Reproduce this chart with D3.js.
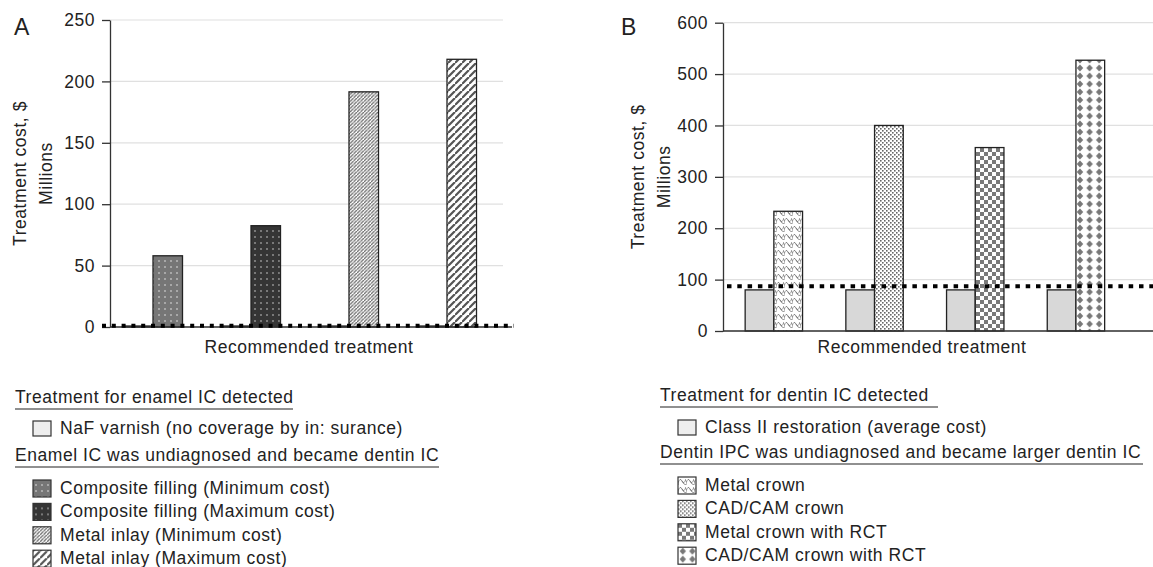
<!DOCTYPE html>
<html>
<head>
<meta charset="utf-8">
<script src="https://cdn.jsdelivr.net/npm/d3@7"></script>
<style>
  body { margin: 0; background: #fff; }
  svg text { font-family: "Liberation Sans", Arial, Helvetica, sans-serif; fill: #222; letter-spacing: 0.55px; }
</style>
</head>
<body>
<svg id="chart" width="1153" height="567"></svg>
<script>
// ---- data ----
var groupsA = ["g1", "g2", "g3", "g4"];
var seriesA = ["Composite filling (Minimum cost)", "Composite filling (Maximum cost)", "Metal inlay (Minimum cost)", "Metal inlay (Maximum cost)"];
var valuesA = [58, 82.5, 191.5, 218];
var nafA = [0.8, 0.8, 0.8, 0.8];
var lineA = 1;
var ticksA = [0, 50, 100, 150, 200, 250];

var groupsB = ["g1", "g2", "g3", "g4"];
var seriesB = ["Metal crown", "CAD/CAM crown", "Metal crown with RCT", "CAD/CAM crown with RCT"];
var valuesB = [233, 400, 357, 527];
var classB = [80, 80, 80, 80];
var lineB = 87;
var ticksB = [0, 100, 200, 300, 400, 500, 600];

var patA = ["compMin", "compMax", "inlayMin", "inlayMax"];
var patB = ["metalCrown", "cadcam", "metalRCT", "cadcamRCT"];

const FS = 17.5;
const svg = d3.select("#chart");
const defs = svg.append("defs");

// ---- fill patterns ----
function pattern(id, w, h) {
    return defs.append("pattern").attr("id", id)
        .attr("patternUnits", "userSpaceOnUse")
        .attr("width", w).attr("height", h);
}
function dots(id, bg, dot) {
    let p = pattern(id, 6, 6);
    p.append("rect").attr("width", 6).attr("height", 6).attr("fill", bg);
    p.append("circle").attr("cx", 3).attr("cy", 3).attr("r", 0.8).attr("fill", dot);
}
dots("compMin", "#767676", "#e8e8e8");
dots("compMax", "#353535", "#d0d0d0");

function hatch(id, step, col, sw) {
    let p = pattern(id, step, step);
    p.append("rect").attr("width", step).attr("height", step).attr("fill", "#fff");
    p.append("path")
        .attr("d", `M0,${step} L${step},0 M${-step},${step} L0,0 M${step},${2*step} L${2*step},${step}`)
        .attr("stroke", col).attr("stroke-width", sw);
}
hatch("inlayMin", 3.5, "#6a6a6a", 1.3);
hatch("inlayMax", 7, "#555", 2.2);

// metal crown: scaly wave lattice
(function () {
    let p = pattern("metalCrown", 8, 8);
    p.append("rect").attr("width", 8).attr("height", 8).attr("fill", "#fff");
    p.append("path")
        .attr("d", "M0,6 Q2,0 4,4 T8,2 M0,6 L0,8 M4,4 Q5,7 8,8")
        .attr("fill", "none").attr("stroke", "#777").attr("stroke-width", 0.9);
})();

// cad/cam crown: stipple
(function () {
    let p = pattern("cadcam", 4, 4);
    p.append("rect").attr("width", 4).attr("height", 4).attr("fill", "#fff");
    p.append("rect").attr("x", 0).attr("y", 0).attr("width", 1.6).attr("height", 1.6).attr("fill", "#666");
    p.append("rect").attr("x", 2).attr("y", 2).attr("width", 1.6).attr("height", 1.6).attr("fill", "#666");
})();

// metal crown with RCT: checkerboard
(function () {
    let p = pattern("metalRCT", 8, 8);
    p.append("rect").attr("width", 8).attr("height", 8).attr("fill", "#fff");
    p.append("rect").attr("width", 4).attr("height", 4).attr("fill", "#7a7a7a");
    p.append("rect").attr("x", 4).attr("y", 4).attr("width", 4).attr("height", 4).attr("fill", "#7a7a7a");
})();

// cad/cam crown with RCT: diamonds
(function () {
    let p = pattern("cadcamRCT", 9.6, 8);
    p.append("rect").attr("width", 9.6).attr("height", 8).attr("fill", "#fff");
    p.append("path").attr("d", "M4.8,0.6 L8,4 L4.8,7.4 L1.6,4 Z").attr("fill", "#777");
})();

// ---- one panel ----
function panel(cfg) {
    const g = svg.append("g");

    const y = d3.scaleLinear().domain(cfg.domain).range([cfg.bottom, cfg.top]);
    const x = d3.scaleBand().domain(cfg.groups).range(cfg.band);

    // grid
    g.append("g").selectAll("line").data(cfg.ticks).join("line")
        .attr("x1", cfg.axisX).attr("x2", cfg.gridEnd)
        .attr("y1", d => y(d)).attr("y2", d => y(d))
        .attr("stroke", "#e0e0e0").attr("stroke-width", 1.2);

    // bars: light gray (left) + patterned (right) around group centre
    const bw = cfg.barW;
    const bars = g.append("g").attr("stroke", "#222").attr("stroke-width", 1.3);
    bars.selectAll(".base").data(cfg.groups).join("rect").attr("class", "base")
        .attr("x", d => x(d) + x.bandwidth() / 2 - bw)
        .attr("width", bw)
        .attr("y", (d, i) => y(cfg.base[i]))
        .attr("height", (d, i) => y(0) - y(cfg.base[i]))
        .attr("fill", "#d8d8d8");
    bars.selectAll(".main").data(cfg.groups).join("rect").attr("class", "main")
        .attr("x", d => x(d) + x.bandwidth() / 2)
        .attr("width", bw)
        .attr("y", (d, i) => y(cfg.values[i]))
        .attr("height", (d, i) => y(0) - y(cfg.values[i]))
        .attr("fill", (d, i) => `url(#${cfg.patterns[i]})`);

    // axes
    g.append("line").attr("x1", cfg.axisX).attr("x2", cfg.xLineEnd)
        .attr("y1", y(0)).attr("y2", y(0))
        .attr("stroke", "#333").attr("stroke-width", 1.3);

    const ya = g.append("g").attr("transform", `translate(${cfg.axisX},0)`)
        .call(d3.axisLeft(y).tickValues(cfg.ticks).tickSize(8).tickSizeOuter(0).tickPadding(7));
    ya.select(".domain").attr("stroke", "#333").attr("stroke-width", 1.3);
    ya.selectAll(".tick line").attr("stroke", "#333").attr("stroke-width", 1.3);
    ya.selectAll(".tick text").attr("font-size", FS).attr("fill", "#222")
        .style("font-family", '"Liberation Sans", Arial, sans-serif');

    // dotted reference line
    g.append("line").attr("x1", cfg.dotStart).attr("x2", cfg.dotEnd)
        .attr("y1", y(cfg.dotVal)).attr("y2", y(cfg.dotVal))
        .attr("stroke", "#000").attr("stroke-width", 4)
        .attr("stroke-dasharray", cfg.dash);

    // labels
    const midY = (cfg.top + cfg.bottom) / 2;
    g.append("text").attr("transform", `translate(${cfg.titleX},${midY}) rotate(-90)`)
        .attr("text-anchor", "middle").attr("dominant-baseline", "central")
        .attr("font-size", FS).text("Treatment cost, $");
    g.append("text").attr("transform", `translate(${cfg.titleX + 26},${midY}) rotate(-90)`)
        .attr("text-anchor", "middle").attr("dominant-baseline", "central")
        .attr("font-size", FS).text("Millions");
    g.append("text").attr("x", cfg.xTitleX).attr("y", 353)
        .attr("text-anchor", "middle").attr("font-size", FS).text("Recommended treatment");
    g.append("text").attr("x", cfg.letterX).attr("y", 35)
        .attr("font-size", 23).style("letter-spacing", "0px").text(cfg.letter);

    // legend
    const L = svg.append("g");
    L.append("text").attr("x", cfg.legX).attr("y", cfg.legY[0] + 6).attr("font-size", FS).text(cfg.head1);
    L.append("line").attr("x1", cfg.legX).attr("x2", cfg.legX + cfg.ul1)
        .attr("y1", cfg.legY[0] + 12).attr("y2", cfg.legY[0] + 12).attr("stroke", "#222").attr("stroke-width", 1.2);
    L.append("rect").attr("x", cfg.legX + 18).attr("y", cfg.legY[1] - 7).attr("width", 18).attr("height", 15)
        .attr("fill", "#eee").attr("stroke", "#333").attr("stroke-width", 1.2);
    L.append("text").attr("x", cfg.legX + 45).attr("y", cfg.legY[1] + 6).attr("font-size", FS).text(cfg.baseLabel);
    L.append("text").attr("x", cfg.legX).attr("y", cfg.legY[2] + 6).attr("font-size", FS).text(cfg.head2);
    L.append("line").attr("x1", cfg.legX).attr("x2", cfg.legX + cfg.ul2)
        .attr("y1", cfg.legY[2] + 12).attr("y2", cfg.legY[2] + 12).attr("stroke", "#222").attr("stroke-width", 1.2);

    const items = L.selectAll(".item").data(cfg.series).join("g").attr("class", "item")
        .attr("transform", (d, i) => `translate(${cfg.legX + 18},${cfg.legY[3] + i * 23.4})`);
    items.append("rect").attr("x", 0).attr("y", -8).attr("width", 18).attr("height", 17)
        .attr("fill", (d, i) => `url(#${cfg.patterns[i]})`).attr("stroke", "#333").attr("stroke-width", 1.2);
    items.append("text").attr("x", 27).attr("y", 6).attr("font-size", FS).text(d => d);
}

panel({
    letter: "A", letterX: 14,
    groups: groupsA, values: valuesA, base: nafA, patterns: patA, series: seriesA,
    domain: [0, 250], ticks: ticksA, top: 20, bottom: 327,
    band: [104, 496], barW: 29.5, axisX: 110, gridEnd: 503, xLineEnd: 512,
    dotVal: lineA, dotStart: 102, dotEnd: 514, dash: "4,5.8",
    titleX: 20, xTitleX: 309,
    legX: 15, legY: [397, 428, 455, 488], ul1: 278, ul2: 424,
    head1: "Treatment for enamel IC detected",
    baseLabel: "NaF varnish (no coverage by in: surance)",
    head2: "Enamel IC was undiagnosed and became dentin IC"
});

panel({
    letter: "B", letterX: 621,
    groups: groupsB, values: valuesB, base: classB, patterns: patB, series: seriesB,
    domain: [0, 600], ticks: ticksB, top: 22.7, bottom: 331,
    band: [723.5, 1126.3], barW: 28.7, axisX: 723, gridEnd: 1153, xLineEnd: 1153,
    dotVal: lineB, dotStart: 727, dotEnd: 1153, dash: "4.5,5.8",
    titleX: 638, xTitleX: 922,
    legX: 660, legY: [395, 427, 452, 485], ul1: 278, ul2: 483,
    head1: "Treatment for dentin IC detected",
    baseLabel: "Class II restoration (average cost)",
    head2: "Dentin IPC was undiagnosed and became larger dentin IC"
});
</script>
</body>
</html>
